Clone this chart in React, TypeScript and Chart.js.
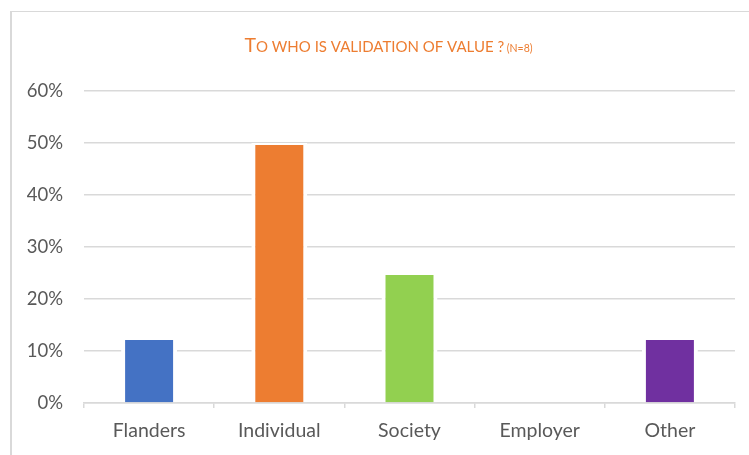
import React, { useEffect, useRef } from "react";
import { Chart, registerables } from "chart.js";

Chart.register(...registerables);

const categories = ["Flanders", "Individual", "Society", "Employer", "Other"];
const values = [0.125, 0.5, 0.25, 0, 0.125];
const barColors = ["#4472C4", "#ED7D31", "#92D050", "#A5A5A5", "#7030A0"];
const yTicks = [0, 0.1, 0.2, 0.3, 0.4, 0.5, 0.6];
const titleParts = [
  { text: "T", size: 19.5 },
  { text: "O WHO IS VALIDATION OF VALUE ?", size: 15 },
  { text: " ", size: 10 },
  { text: "(N=8)", size: 10.5 },
];

const FONT = "Lato, 'Open Sans', sans-serif";

const titlePlugin = {
  id: "smallCapsTitle",
  afterDraw(chart: any) {
    const ctx = chart.ctx;
    ctx.save();
    ctx.fillStyle = "#ED7D31";
    ctx.textBaseline = "alphabetic";
    ctx.textAlign = "left";
    let total = 0;
    const widths: number[] = [];
    for (const p of titleParts) {
      ctx.font = `${p.size}px ${FONT}`;
      const w = ctx.measureText(p.text).width;
      widths.push(w);
      total += w;
    }
    let x = 388.5 - total / 2;
    const y = 52;
    titleParts.forEach((p, i) => {
      ctx.font = `${p.size}px ${FONT}`;
      ctx.fillText(p.text, x, y);
      x += widths[i];
    });
    ctx.restore();
  },
};

export default function App() {
  const ref = useRef<HTMLCanvasElement | null>(null);

  useEffect(() => {
    if (!ref.current) return;
    const chart = new Chart(ref.current, {
      type: "bar",
      data: {
        labels: categories,
        datasets: [
          {
            data: values,
            backgroundColor: barColors,
            borderColor: "#ffffff",
            borderWidth: { left: 4, right: 4, top: 2, bottom: 0 } as any,
            borderSkipped: "bottom",
            barPercentage: 0.43,
            categoryPercentage: 1,
          },
        ],
      },
      options: {
        responsive: false,
        animation: false,
        layout: { padding: { top: 91, right: 14, left: 0, bottom: 0 } },
        plugins: {
          legend: { display: false },
          title: { display: false },
          tooltip: { enabled: false },
        },
        scales: {
          x: {
            grid: {
              display: true,
              drawOnChartArea: false,
              drawTicks: true,
              tickLength: 5,
              offset: true,
              color: "#d9d9d9",
              lineWidth: 1.5,
            },
            border: { display: true, color: "#d9d9d9", width: 1.5 },
            ticks: {
              color: "#595959",
              font: { family: FONT, size: 19.5 },
              padding: 11,
              maxRotation: 0,
            },
            afterFit(scale: any) {
              scale.height = 455 - 403;
            },
          },
          y: {
            min: 0,
            max: 0.6,
            afterBuildTicks(scale: any) {
              scale.ticks = yTicks.map((v) => ({ value: v }));
            },
            grid: { color: "#d9d9d9", lineWidth: 1.5, drawTicks: false },
            border: { display: false },
            ticks: {
              color: "#595959",
              font: { family: FONT, size: 18.5 },
              padding: 21,
              callback: (v: any) => `${Math.round(Number(v) * 100)}%`,
            },
            afterFit(scale: any) {
              scale.width = 84;
            },
          },
        },
      },
      plugins: [titlePlugin],
    });
    return () => chart.destroy();
  }, []);

  return (
    <div
      style={{
        position: "fixed",
        left: 0,
        top: 0,
        width: 749,
        height: 455,
        overflow: "hidden",
        background: "#ffffff",
      }}
    >
      <div
        style={{
          position: "absolute",
          left: 10,
          top: 11,
          width: 800,
          height: 500,
          borderLeft: "2px solid #d9d9d9",
          borderTop: "1px solid #d9d9d9",
        }}
      />
      <canvas
        ref={ref}
        width={749}
        height={455}
        style={{ position: "absolute", left: 0, top: 0, width: 749, height: 455 }}
      />
    </div>
  );
}
